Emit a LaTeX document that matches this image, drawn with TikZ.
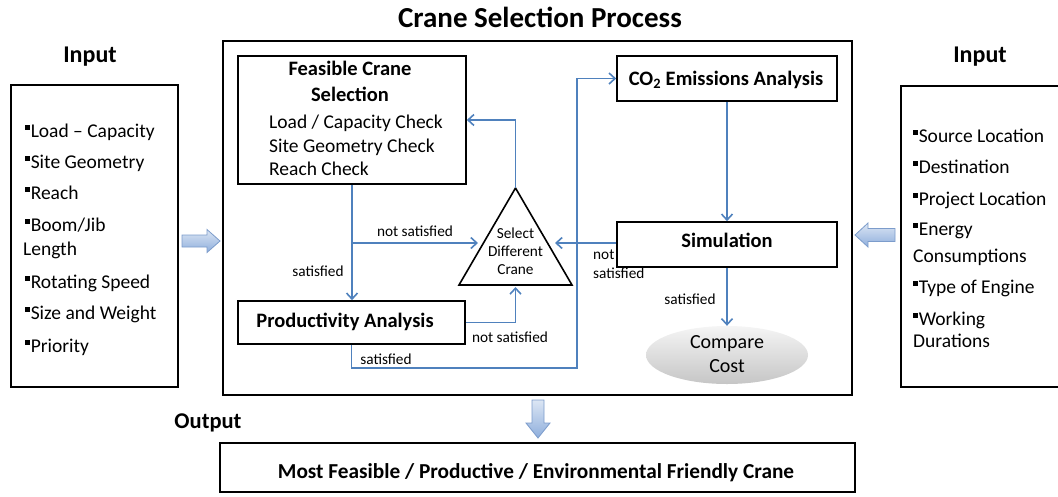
\documentclass[tikz,border=0pt]{standalone}
\usepackage{fontspec}
\setmainfont{Carlito}
\usetikzlibrary{arrows.meta,shapes.geometric}
\definecolor{flowblue}{HTML}{4F81BD}
\definecolor{barrowtop}{HTML}{DCE6F4}
\definecolor{barrowbot}{HTML}{8EAEDC}
\definecolor{barrowline}{HTML}{7C9CCB}
\newcommand\fs[2]{\fontsize{#1}{#2}\selectfont}
\newcommand\bul{\raisebox{0.34em}{\rule{0.26em}{0.26em}}\hspace{0.5pt}}
\tikzset{
  box/.style={draw=black, line width=1.6pt, inner sep=0pt},
  flow/.style={draw=flowblue, line width=1.6pt, -{Straight Barb[length=6pt,width=11pt]}},
  body/.style={font=\fs{19.5}{23}, inner sep=0pt},
  btitle/.style={font=\fs{20.5}{26}\bfseries, inner sep=0pt},
  lbl/.style={font=\fs{15.3}{18}, inner sep=0pt},
  blockarrow/.style={top color=barrowtop, bottom color=barrowbot, draw=barrowline, line width=0.8pt},
}
\begin{document}
\begin{tikzpicture}[x=1pt,y=-1pt]
\useasboundingbox (0,0) rectangle (1058,496);

% titles
\node[font=\fs{29}{32}\bfseries, anchor=base, inner sep=0pt] (title) at (540,27) {Crane Selection Process};
\node[font=\fs{24}{26}\bfseries, anchor=base, inner sep=0pt] (inL) at (90,62) {Input};
\node[font=\fs{24}{26}\bfseries, anchor=base, inner sep=0pt] (inR) at (980,62) {Input};
\node[font=\fs{22.5}{26}\bfseries, anchor=base, inner sep=0pt] (outlbl) at (208,428) {Output};

% frames
\node[box, minimum width=167pt, minimum height=302pt] (leftbox) at (94.5,236) {};
\node[box, minimum width=169pt, minimum height=301pt] (rightbox) at (985.5,236.5) {};
\node[box, minimum width=629pt, minimum height=354pt] (main) at (537.5,218) {};
\node[box, minimum width=635pt, minimum height=49pt] (outbox) at (537.5,467.5) {};
\node[font=\fs{21.3}{24}\bfseries, anchor=base, inner sep=0pt] (outtext) at (536,478) {Most Feasible / Productive / Environmental Friendly Crane};

% left items
\node[body, anchor=base west] (l1) at (25,137) {\bul Load -- Capacity};
\node[body, anchor=base west] (l2) at (25,168) {\bul Site Geometry};
\node[body, anchor=base west] (l3) at (25,199) {\bul Reach};
\node[body, anchor=base west] (l4) at (25,231) {\bul Boom/Jib};
\node[body, anchor=base west] (l5) at (23,255) {Length};
\node[body, anchor=base west] (l6) at (25,288) {\bul Rotating Speed};
\node[body, anchor=base west] (l7) at (25,319) {\bul Size and Weight};
\node[body, anchor=base west] (l8) at (25,352) {\bul Priority};

% right items
\node[body, anchor=base west] (r1) at (913,142) {\bul Source Location};
\node[body, anchor=base west] (r2) at (913,173) {\bul Destination};
\node[body, anchor=base west] (r3) at (913,205) {\bul Project Location};
\node[body, anchor=base west] (r4) at (913,235) {\bul Energy};
\node[body, anchor=base west] (r5) at (913,262) {Consumptions};
\node[body, anchor=base west] (r6) at (913,293) {\bul Type of Engine};
\node[body, anchor=base west] (r7) at (913,325) {\bul Working};
\node[body, anchor=base west] (r8) at (913,347) {Durations};

% block arrows
\path[blockarrow] (182,235) -- (207,235) -- (207,229.5) -- (220,241) -- (207,252.5) -- (207,247) -- (182,247) -- cycle;
\path[blockarrow] (895,228.5) -- (868,228.5) -- (868,223) -- (855,235) -- (868,247) -- (868,241.5) -- (895,241.5) -- cycle;
\path[blockarrow] (532,400) -- (544,400) -- (544,423) -- (550,423) -- (538,438) -- (526,423) -- (532,423) -- cycle;

% process boxes
\node[box, minimum width=228pt, minimum height=128pt] (feas) at (352,120) {};
\node[btitle, anchor=base] (feasT1) at (350,75) {Feasible Crane};
\node[btitle, anchor=base] (feasT2) at (350,101) {Selection};
\node[body, anchor=base west] (feas1) at (269,128) {Load / Capacity Check};
\node[body, anchor=base west] (feas2) at (269,152) {Site Geometry Check};
\node[body, anchor=base west] (feas3) at (269,175) {Reach Check};

\node[box, minimum width=227pt, minimum height=43pt] (prod) at (351.5,322.5) {};
\node[btitle, anchor=base] (prodT) at (345,327) {Productivity Analysis};

\node[box, minimum width=220pt, minimum height=45pt] (co2) at (727,78.5) {};
\node[btitle, anchor=base] (co2T) at (726,85) {CO\textsubscript{2} Emissions Analysis};

\node[box, minimum width=220pt, minimum height=45pt] (sim) at (727,244.5) {};
\node[btitle, anchor=base] (simT) at (727,247) {Simulation};

\node[ellipse, minimum width=162pt, minimum height=58pt, inner sep=0pt, top color=gray!8, bottom color=gray!45, draw=none] (cost) at (727,355) {};
\node[font=\fs{20}{24}, anchor=base, inner sep=0pt] (costT1) at (727,348) {Compare};
\node[font=\fs{20}{24}, anchor=base, inner sep=0pt] (costT2) at (727,372) {Cost};

% triangle
\coordinate (triT) at (515.5,188);
\coordinate (triA) at (459,285);
\coordinate (triC) at (572,285);
\draw[line width=1.6pt, line join=miter] (triT) -- (triA) -- (triC) -- cycle;
\node[lbl, align=center] (triText) at (515.5,251) {Select\\Different\\Crane};
\coordinate (triL) at (478,243);
\coordinate (triR) at (555,243);
\coordinate (triB) at (515.5,287);
\coordinate (pc) at (577,368);

% connectors
\draw[flow] (feas.south) -- (feas.south |- prod.north);
\draw[flow] (feas.south |- triL) -- (triL);
\draw[flow] (triT) |- (feas.east);
\draw[flow] (prod.east) -| (triB);
\draw[flow] (prod.south) |- (pc) |- (co2.west);
\draw[flow] (co2.south) -- (sim.north);
\draw[flow] (sim.west |- triR) -- (triR);
\draw[flow] (sim.south) -- (cost.north);

% labels
\node[lbl, anchor=base] (ns1) at (415,236) {not satisfied};
\node[lbl, anchor=base] (s1) at (318,276) {satisfied};
\node[lbl, anchor=base] (ns2) at (510,342) {not satisfied};
\node[lbl, anchor=base] (s2) at (386,364) {satisfied};
\node[lbl, anchor=base west] (ns3a) at (593,259) {not};
\node[lbl, anchor=base west] (ns3b) at (593,278) {satisfied};
\node[lbl, anchor=base] (s3) at (690,304) {satisfied};
\end{tikzpicture}
\end{document}
